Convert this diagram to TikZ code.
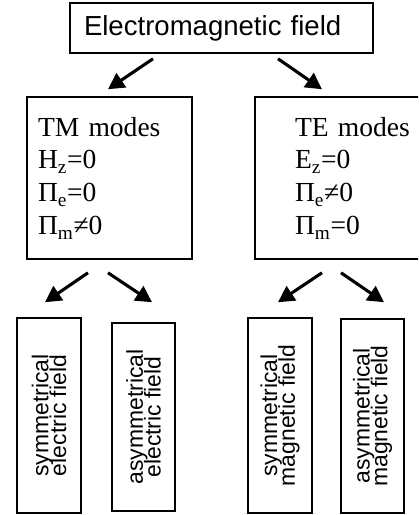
\documentclass[tikz,border=0pt]{standalone}
\usepackage{fontspec}
\setmainfont{Liberation Serif}
\setsansfont{Liberation Sans}
\usetikzlibrary{arrows.meta}
\newcommand\fieldfont{\sffamily\fontsize{16.3}{12.6}\selectfont\lineskiplimit-20pt\relax}
\begin{document}
\begin{tikzpicture}[
        box/.style={draw, line width=1.1pt, inner ysep=0pt, align=left},
        modebox/.style={box, minimum height=4.05cm, font=\fontsize{19.6}{23.4}\selectfont},
        fieldbox/.style={draw, line width=1.1pt, rotate=90, inner sep=0pt, align=center,
            minimum width=4.875cm, minimum height=1.6cm, font=\fieldfont},
        branch/.style={-{Triangle[length=11.5pt,width=12pt]}, line width=2.2pt}
    ]
        \clip (0,0) rectangle (10.45,-12.875);

        \node[box, minimum height=1.25cm, text width=6.875cm, inner xsep=0.35cm,
            font=\sffamily\fontsize{19.6}{23.4}\selectfont] (em) at (5.5375,-0.7) {Electromagnetic field};

        \node[modebox, text width=3.575cm, inner xsep=0.275cm] (tm) at (2.7375,-4.45)
            {TM modes\\ H\textsubscript{z}=0\\ Π\textsubscript{e}=0\\ Π\textsubscript{m}≠0};
        \node[modebox, text width=3cm, inner xsep=1cm] (te) at (8.875,-4.45)
            {TE modes\\ E\textsubscript{z}=0\\ Π\textsubscript{e}≠0\\ Π\textsubscript{m}=0};

        \node[fieldbox] (s1) at (1.225,-10.3875) {symmetrical\\ electric field};
        \node[fieldbox, minimum width=4.7cm, minimum height=1.575cm] (s2) at (3.5875,-10.425) {asymmetrical\\ electric field};
        \node[fieldbox] (s3) at (7.0,-10.3875) {symmetrical\\ magnetic field};
        \node[fieldbox, minimum width=4.85cm, minimum height=1.575cm] (s4) at (9.3125,-10.4) {asymmetrical\\ magnetic field};

        \draw[branch] ([xshift=-1.7125cm,yshift=-0.125cm]em.south) -- ([xshift=-0.0375cm,yshift=0.175cm]tm.north);
        \draw[branch] ([xshift=1.4125cm,yshift=-0.125cm]em.south) -- ([xshift=-0.825cm,yshift=0.175cm]te.north);

        \draw[branch] ([xshift=-0.5375cm,yshift=-0.325cm]tm.south) -- ([xshift=-0.1cm,yshift=0.375cm]s1.east);
        \draw[branch] ([xshift=-0.0375cm,yshift=-0.325cm]tm.south) -- ([xshift=0.2125cm,yshift=0.5cm]s2.east);
        \draw[branch] ([xshift=-0.825cm,yshift=-0.325cm]te.south) -- ([xshift=-0.05cm,yshift=0.375cm]s3.east);
        \draw[branch] ([xshift=-0.35cm,yshift=-0.325cm]te.south) -- ([xshift=0.2875cm,yshift=0.4cm]s4.east);
    \end{tikzpicture}
\end{document}
